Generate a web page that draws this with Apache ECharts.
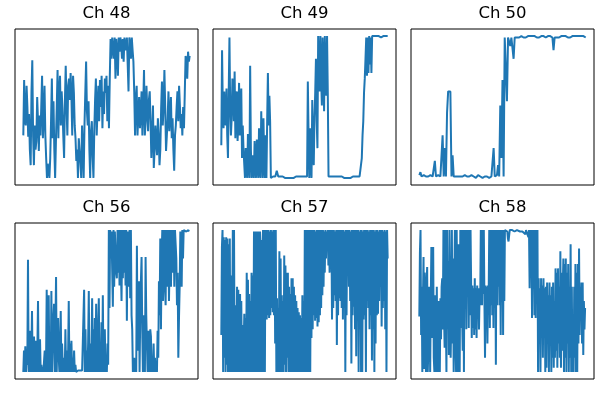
<!DOCTYPE html>
<html>
<head>
<meta charset="UTF-8">
<title>Channels</title>
<script src="https://cdn.jsdelivr.net/npm/echarts@6/dist/echarts.min.js"></script>
<style>
  html, body { margin: 0; padding: 0; background: #fff; }
  #main { width: 604px; height: 394px; }
</style>
</head>
<body>
<div id="main"></div>
<script>
// panel titles
var titles = ['Ch 48', 'Ch 49', 'Ch 50', 'Ch 56', 'Ch 57', 'Ch 58'];

// values, 0 = lowest, 100 = highest level in each panel
var ch48 = [30, 69, 40, 37, 65, 50, 29, 45, 20, 9, 60, 83, 30, 9, 37, 20, 26, 57, 40, 19, 44, 30, 50, 72, 28,
  42, 65, 30, 14, 0, 10, 5, 0, 14, 40, 70, 28, 54, 20, 0, 26, 50, 76, 28, 60, 72, 37, 61, 49, 30,
  14, 54, 79, 50, 30, 65, 70, 55, 74, 57, 30, 72, 60, 37, 28,
  12, 20, 0, 28, 19, 10, 0, 37, 20, 0, 37, 60, 82, 47, 37, 54, 20, 0, 33, 40, 15, 0, 33, 55, 70,
  30, 49, 65, 40, 69, 50, 72, 35, 61, 45, 70, 60, 72, 40, 65, 35, 70, 98, 84, 99,
  98, 84, 99, 70, 98, 90, 72, 99, 89, 99, 95, 84, 98, 82, 99, 90, 89, 99, 80, 61, 99, 95, 84, 99, 90, 82,
  61, 30, 55, 65, 30, 45, 57, 35, 45, 61, 30, 50, 76, 30, 40, 65, 47, 33, 55, 61, 40, 14, 30, 51, 7,
  20, 37, 25, 16, 42, 30, 9, 20, 49, 68, 37, 50, 76, 50, 19, 30, 42, 61, 33, 45, 57, 28, 42, 20, 5,
  30, 37, 50, 61, 40, 65, 51, 35, 45, 30, 50, 35, 60, 86, 84, 70, 89, 82, 86];

var ch49 = [23, 90, 50, 35, 61, 40, 37, 63, 30, 14, 60, 99, 50, 30, 42, 70, 61, 40, 75, 28,
  50, 61, 26, 40, 67, 30, 50, 63, 14, 37, 20, 21, 0, 21, 5, 0, 31, 10, 0, 79,
  20, 0, 16, 5, 0, 26, 9, 0, 27, 10, 0, 35, 5, 0, 47, 20, 0, 42, 10, 0,
  30, 0, 40, 74, 37, 58, 40, 0,
  1, 0, 1, 1, 0, 1, 1, 5, 3, 1, 0, 1, 1, 0, 1, 1, 0, 1, 0, 1, 1, 0, 1, 1, 0,
  1, 1, 0, 1, 1, 0, 1, 0, 1, 1, 0, 1, 1, 0, 1, 1, 0, 1, 1, 0, 1, 0, 1, 1,
  68, 30, 0, 35, 10, 0, 55, 20, 9, 42, 60, 84, 40, 21, 100, 80, 61, 100, 70, 51,
  99, 80, 47, 100, 70, 58, 100, 60, 1,
  0, 1, 1, 0, 1, 1, 0, 1, 1, 0, 1, 1, 0, 1, 1, 0, 1, 1, 0, 1, 0, 1,
  1, 0, 1, 1, 0, 1, 1, 0, 1, 0, 1, 1, 0, 1, 1, 0, 1, 1, 0, 1, 1, 0,
  14, 30, 40, 60, 70, 84, 99, 72, 99, 74, 100, 80, 99, 74, 100, 99, 100, 100,
  99, 100, 100, 100, 99, 100, 100, 100, 99, 100, 100, 100, 99, 100, 100, 100, 99, 100];

var ch50 = [2, 4, 1, 1, 2, 1, 1, 2, 1, 1, 2, 1, 1, 2,
  12, 1,
  1, 2, 1, 1, 2,
  30, 1, 21, 1, 46, 61, 61, 61, 1, 16, 1, 2, 1,
  1, 1, 2, 1, 0, 1, 1, 2, 1, 1, 0, 1, 1, 2, 1, 1, 1, 0, 1, 2, 1, 1, 1, 0, 1, 1, 2, 1, 1, 0, 1, 1, 2,
  21, 1, 1, 2, 9, 1, 51, 14, 69, 1, 99, 99,
  54, 99, 99, 93, 99, 99, 84, 99, 99,
  99, 100, 99, 99, 100, 100, 99, 100, 99, 100, 100, 99, 100, 99, 100, 99, 100, 100, 99, 100,
  99, 100, 100, 99, 100, 99, 99, 100, 100, 99, 100, 100, 99, 90, 99, 100, 99, 100, 99, 100,
  100, 99, 100, 99, 100, 99, 99, 100, 99, 100, 100, 99, 100, 99, 100, 99, 100, 99, 100, 99,
  100, 100, 99];

var ch56 = [0, 15, 0, 18, 0, 10, 5, 79, 0, 20, 29, 0, 10, 43, 0, 20, 25, 0, 10, 22, 0, 15, 50, 0, 10, 23, 0, 5, 0, 3, 0,
  0, 15, 0, 5, 58, 0, 20, 54, 0, 10, 0, 57, 0, 20, 38, 48, 0, 30, 67, 0, 30, 38, 10, 0, 20, 43, 0, 20, 5, 0,
  10, 0, 30, 0, 15, 0, 10, 50, 0, 20, 0, 22, 0, 10, 0, 15, 0, 5, 0, 1,
  0, 1, 0, 0, 1, 0, 0, 1, 0, 0,
  58, 0, 30, 0, 15, 0, 20, 57, 0, 20, 0, 10, 52, 0, 30, 0, 38, 0, 48, 10, 0, 30, 52, 0, 20, 0, 35, 0, 54, 0,
  20, 30, 0, 10, 0, 20, 5,
  100, 45, 100, 80, 99, 100, 46, 100, 60, 99, 100, 70, 66, 100, 70, 100, 61, 100, 99, 50, 100, 66, 100, 70, 100,
  61, 100, 36, 99, 100, 60, 100, 52, 100, 40, 30, 0,
  0, 10, 0, 5, 0, 89, 15, 50, 64, 0, 40, 64, 81, 30, 0, 40, 20, 0, 81, 40, 20, 0, 29, 10, 0, 30, 25, 0, 10, 0,
  20, 0, 10, 0, 5,
  0, 29, 10, 64, 40, 94, 30, 80, 100, 50, 75, 100, 60, 47, 100, 60, 70, 100, 50, 78, 100, 60, 100, 70, 90,
  100, 60, 100, 90, 80,
  47, 70, 10, 38, 60, 99, 99, 60, 100, 80, 100, 99, 100, 100, 99, 100, 100, 100, 99, 100];

var ch57 = [26, 88, 100, 0, 95, 10, 93, 0, 95, 5, 94, 0, 90, 0, 94, 0, 68, 0, 30, 100, 0, 100, 0, 20, 47, 0,
  60, 0, 58, 0, 40, 55, 0, 50, 0, 33, 0, 20, 41, 0, 38, 0, 70, 0, 65, 0, 55, 0, 50, 0, 70, 0, 68, 0, 99, 0, 60,
  99, 0, 99, 0, 80, 99, 0, 99, 0, 93, 0, 90, 100, 0, 100, 0, 100,
  100, 37, 100, 40, 100, 38, 99, 40, 100, 45, 99, 42, 100, 40, 100, 20, 100, 0,
  52, 0, 45, 0, 85, 0, 80, 0, 54, 0, 50, 0, 82, 5, 75, 0, 70, 10, 70, 0, 60, 0, 55, 0, 66,
  0, 66, 0, 60, 0, 54, 0, 50, 0, 45, 0, 42, 0, 40, 0, 38, 0, 54, 0, 50, 0, 100, 0, 100,
  0, 100, 0, 100, 0, 100, 0, 100,
  24, 100, 30, 100, 40, 100, 36, 99, 38, 100, 32, 100, 35, 100, 40, 100, 45,
  100, 54, 100, 60, 99, 70, 100, 80, 99, 86, 100, 75, 100, 70,
  100, 75, 100, 37, 100, 45, 100, 54, 99, 50, 100, 19, 100, 40, 100,
  52, 100, 50, 100, 45, 100, 37, 100, 45, 99, 0, 100, 40, 100, 80, 100,
  60, 100, 50, 99, 6, 100, 40, 100, 46, 100, 30, 100, 11, 100, 50,
  100, 0, 99, 30, 100, 0, 100, 0, 99, 37, 100, 40, 100, 0, 100,
  50, 100, 45, 99, 30, 100, 40, 100, 8, 100, 30, 100, 0, 99, 20,
  100, 40, 100, 41, 99, 50, 100, 60, 100, 32, 100, 45, 99, 50, 100, 30, 99, 0, 100, 80];

var ch58 = [39, 84, 100, 26, 60, 0, 50,
  81, 2, 70, 46, 0, 60, 74, 0, 16, 60, 40, 0, 50, 88, 24, 70, 88, 10, 0, 54, 20, 0, 60, 10, 0, 50, 20, 0,
  52, 23, 60, 66, 30, 100, 40, 17,
  100, 40, 0, 100, 30, 78, 12, 100, 50, 10, 38, 100, 20, 80, 0, 60, 100, 20, 0, 100, 40, 0, 90, 20, 0,
  100, 31, 100, 40, 15, 100, 0, 100, 50, 100, 30, 100, 61, 100, 31, 100, 40, 100, 61,
  24, 61, 31, 59, 26, 66, 30, 59, 24, 61, 40, 59, 30, 55, 47,
  100, 61, 47, 100, 55, 100, 50,
  10, 61, 40, 60, 20, 61, 50,
  100, 31, 100, 47, 100, 40, 100, 31,
  100, 45, 100, 5, 100, 47, 100,
  60, 100, 47, 100, 26, 100, 60, 100, 26, 100, 50,
  100, 99, 100, 100, 99, 94, 92, 96, 100, 99, 100, 100, 100, 99, 100, 100, 99, 100, 100, 99, 100, 100,
  99, 100, 100, 99, 100, 100, 100, 99, 100, 99, 100, 100, 97, 100, 100, 99, 100, 95, 100, 59, 100, 90,
  100, 38, 100, 59, 100, 40, 100, 38, 100, 60, 100,
  0, 66, 20, 59, 0, 66, 38, 61, 10, 66, 30, 59, 0, 60,
  3, 63, 28, 54, 0, 63, 20, 54, 0, 60, 10, 63, 3, 50,
  10, 73, 15, 70, 3, 73, 20, 60, 10, 85, 3, 70, 15, 60,
  80, 0, 76, 10, 80, 0, 70, 20, 76, 0, 60, 10, 90, 0, 60, 0,
  38, 0, 60, 10, 76, 0, 70, 0, 76, 20, 87, 26, 60, 40, 63, 20, 63, 12, 50, 30, 45, 45];

var panels = [ch48, ch49, ch50, ch56, ch57, ch58];

var myChart = echarts.init(document.getElementById('main'));

var colLeft = [15, 213, 411];
var rowTop = [29, 223];
var boxW = 183, boxH = 156;

var grid = [], xAxis = [], yAxis = [], series = [], graphic = [];

for (var i = 0; i < panels.length; i++) {
  var c = i % 3, r = Math.floor(i / 3);
  var d = panels[i];
  var n = d.length - 1;
  grid.push({
    left: colLeft[c], top: rowTop[r], width: boxW, height: boxH,
    show: true, borderColor: '#000', borderWidth: 1, backgroundColor: 'transparent'
  });
  // matplotlib style 5% margins
  xAxis.push({
    type: 'value', gridIndex: i, min: -0.05 * n, max: 1.05 * n,
    axisLine: { show: false }, axisTick: { show: false },
    axisLabel: { show: false }, splitLine: { show: false }
  });
  yAxis.push({
    type: 'value', gridIndex: i, min: -5, max: 105,
    axisLine: { show: false }, axisTick: { show: false },
    axisLabel: { show: false }, splitLine: { show: false }
  });
  series.push({
    type: 'line', xAxisIndex: i, yAxisIndex: i,
    data: d.map(function (v, k) { return [k, v]; }),
    showSymbol: false, color: '#1f77b4',
    lineStyle: { width: 2, color: '#1f77b4' }
  });
  graphic.push({
    type: 'text', x: colLeft[c] + boxW / 2, y: rowTop[r] - 15,
    style: {
      text: titles[i], textAlign: 'center', textVerticalAlign: 'middle',
      font: '16.5px "DejaVu Sans"', fill: '#000'
    }
  });
}

myChart.setOption({
  animation: false,
  grid: grid,
  xAxis: xAxis,
  yAxis: yAxis,
  series: series,
  graphic: graphic
});
</script>
</body>
</html>
